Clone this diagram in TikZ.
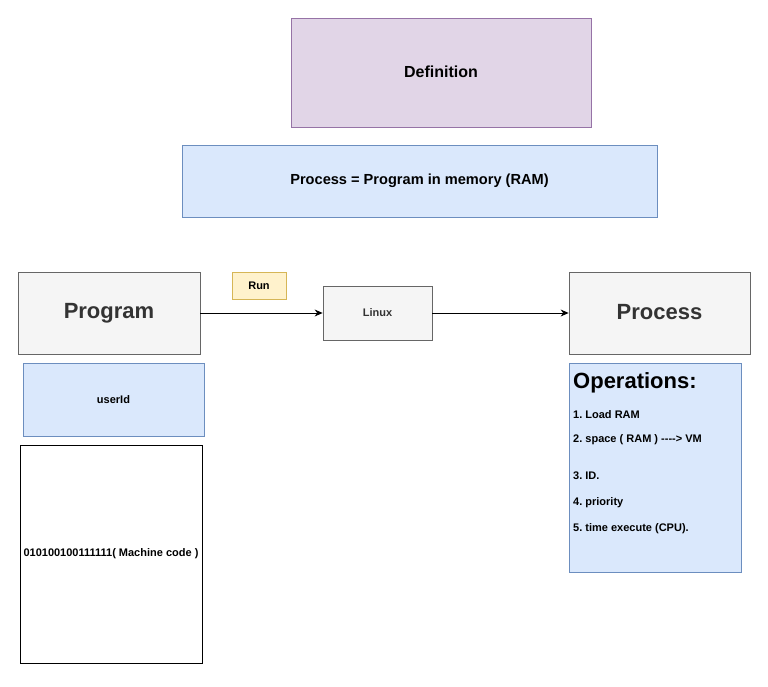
\documentclass[tikz,border=0pt]{standalone}
\usepackage{fontspec}
\setmainfont{Liberation Sans}
\usepackage{tikz}
\usetikzlibrary{arrows.meta,positioning}
\frenchspacing
\definecolor{defFill}{HTML}{E1D5E7}
\definecolor{defDraw}{HTML}{9673A6}
\definecolor{blueFill}{HTML}{DAE8FC}
\definecolor{blueDraw}{HTML}{6C8EBF}
\definecolor{greyFill}{HTML}{F5F5F5}
\definecolor{greyDraw}{HTML}{666666}
\definecolor{greyText}{HTML}{333333}
\definecolor{runFill}{HTML}{FFF2CC}
\definecolor{runDraw}{HTML}{D6B656}
\tikzset{
  box/.style={rectangle, line width=0.8pt, inner sep=0pt, align=center,
    font=\bfseries\fontsize{11}{13}\selectfont},
  purplebox/.style={box, fill=defFill, draw=defDraw},
  bluebox/.style={box, fill=blueFill, draw=blueDraw},
  greybox/.style={box, fill=greyFill, draw=greyDraw, text=greyText},
  notebox/.style={box, fill=runFill, draw=runDraw},
  codebox/.style={box, fill=white, draw=black},
  optext/.style={anchor=base west, inner sep=0pt, font=\bfseries\fontsize{11}{13}\selectfont},
  flow/.style={-{Stealth[length=8pt,width=7pt]}, line width=0.8pt, draw=black},
}

\begin{document}
\begin{tikzpicture}[x=1pt, y=-1pt]
  \useasboundingbox (0,0) rectangle (768,687);
  \node[purplebox, minimum width=300pt, minimum height=109pt,
    font=\bfseries\fontsize{16}{19}\selectfont] (def) at (441,72.5) {\raisebox{1.5pt}{Definition}};
  \node[bluebox, minimum width=475pt, minimum height=72pt,
    font=\bfseries\fontsize{14.6}{17}\selectfont] (eq) at (419.5,181) {Process = Program in memory (RAM)};
  \node[greybox, minimum width=182pt, minimum height=82pt,
    font=\bfseries\fontsize{22}{26}\selectfont] (prog) at (109,313) {\raisebox{1.5pt}{Program}};
  \node[notebox, minimum width=54pt, minimum height=27pt] (run) at (259,285.5) {Run};
  \node[greybox, minimum width=109pt, minimum height=54pt] (linux) at (377.5,313) {Linux};
  \node[greybox, minimum width=181pt, minimum height=82pt,
    font=\bfseries\fontsize{22}{26}\selectfont] (proc) at (659.5,313) {\raisebox{2pt}{Process}};
  \node[bluebox, minimum width=181pt, minimum height=73pt] (user) at (113.5,399.5) {userId};
  \node[codebox, minimum width=182pt, minimum height=218pt] (code) at (111,554) {010100100111111( Machine code )};
  \node[bluebox, minimum width=172pt, minimum height=209pt] (ops) at (655,467.5) {};
  % operations list
  \node[optext, font=\bfseries\fontsize{22}{26}\selectfont] (opshead) at (573,388) {Operations:};
  \node[optext] (op1) at (573,418) {1. Load RAM};
  \node[optext] (op2) at (573,442) {2. space ( RAM ) -{}-{}-{}-> VM};
  \node[optext] (op3) at (573,479) {3. ID.};
  \node[optext] (op4) at (573,505) {4. priority};
  \node[optext] (op5) at (573,531) {5. time execute (CPU).};
  \draw[flow] (prog) -- (linux);
  \draw[flow] (linux) -- (proc);
\end{tikzpicture}
\end{document}
